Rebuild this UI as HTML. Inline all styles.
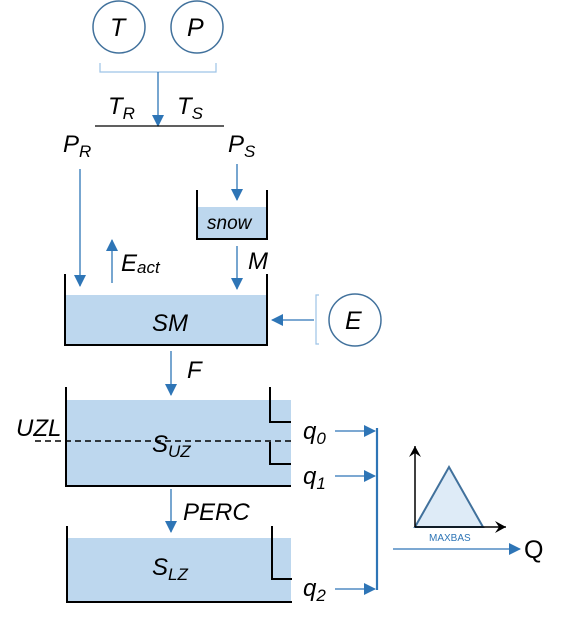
<!DOCTYPE html>
<html><head><style>html,body{margin:0;padding:0;background:#fff}svg{display:block}text{font-family:"Liberation Sans",sans-serif;font-style:italic;fill:#000}</style></head><body>
<svg width="577" height="617" viewBox="0 0 577 617" xmlns="http://www.w3.org/2000/svg">
<defs>
<marker id="b" markerWidth="12" markerHeight="12" refX="11" refY="6" orient="auto" markerUnits="userSpaceOnUse"><path d="M0,0 L12,6 L0,12 z" fill="#2e75b6"/></marker>
<marker id="k" markerWidth="12" markerHeight="12" refX="11" refY="6" orient="auto" markerUnits="userSpaceOnUse"><path d="M0,0 L11,6 L0,12 L4,6 z" fill="#000"/></marker>
</defs>
<circle cx="119" cy="27" r="26" fill="none" stroke="#41719c" stroke-width="1.5"/>
<circle cx="197" cy="27" r="26" fill="none" stroke="#41719c" stroke-width="1.5"/>
<text x="110" y="36" font-size="25">T</text>
<text x="187" y="36" font-size="25">P</text>
<path d="M100,63 V72 H216 V63" fill="none" stroke="#9dc3e6" stroke-width="1.2"/>
<line x1="158" y1="72" x2="158" y2="126" stroke="#2e75b6" stroke-width="1.3" marker-end="url(#b)"/>
<line x1="95" y1="126" x2="224" y2="126" stroke="#000" stroke-width="1.3"/>
<text x="108" y="114" font-size="24">T<tspan font-size="17" dy="5">R</tspan></text>
<text x="177" y="114" font-size="24">T<tspan font-size="17" dy="5">S</tspan></text>
<text x="63" y="152" font-size="24">P<tspan font-size="17" dy="5">R</tspan></text>
<text x="228" y="152" font-size="24">P<tspan font-size="17" dy="5">S</tspan></text>
<line x1="80" y1="169" x2="80" y2="286" stroke="#2e75b6" stroke-width="1.3" marker-end="url(#b)"/>
<line x1="112" y1="283" x2="112" y2="240" stroke="#2e75b6" stroke-width="1.3" marker-end="url(#b)"/>
<text x="121" y="271" font-size="24">E<tspan font-size="17" dy="2">act</tspan></text>
<line x1="237" y1="164" x2="237" y2="200" stroke="#2e75b6" stroke-width="1.3" marker-end="url(#b)"/>
<line x1="237" y1="246" x2="237" y2="289" stroke="#2e75b6" stroke-width="1.3" marker-end="url(#b)"/>
<text x="248" y="269" font-size="24">M</text>
<rect x="197" y="207" width="70" height="32" fill="#bdd7ee"/>
<path d="M197,190 V239 H267 V190" fill="none" stroke="#000" stroke-width="2"/>
<text x="207" y="229" font-size="19">snow</text>
<rect x="65" y="295" width="202" height="50" fill="#bdd7ee"/>
<path d="M65,274 V345 H267 V274" fill="none" stroke="#000" stroke-width="2"/>
<text x="152" y="331" font-size="24">SM</text>
<line x1="314" y1="320" x2="272" y2="320" stroke="#2e75b6" stroke-width="1.3" marker-end="url(#b)"/>
<path d="M319,295 H316 V344 H319" fill="none" stroke="#9dc3e6" stroke-width="1.2"/>
<circle cx="355" cy="320" r="26" fill="none" stroke="#41719c" stroke-width="1.5"/>
<text x="345" y="329" font-size="25">E</text>
<line x1="171" y1="351" x2="171" y2="395" stroke="#2e75b6" stroke-width="1.3" marker-end="url(#b)"/>
<text x="187" y="378" font-size="24">F</text>
<rect x="66" y="400" width="225" height="86" fill="#bdd7ee"/>
<path d="M66,387 V486 H291" fill="none" stroke="#000" stroke-width="2"/>
<path d="M270,387 V422 H291" fill="none" stroke="#000" stroke-width="2"/>
<path d="M270,442 V464 H291" fill="none" stroke="#000" stroke-width="2"/>
<line x1="35" y1="441" x2="291" y2="441" stroke="#000" stroke-width="1.5" stroke-dasharray="6,4"/>
<text x="16" y="436" font-size="24">UZL</text>
<text x="152" y="452" font-size="24">S<tspan font-size="17" dy="5">UZ</tspan></text>
<line x1="171" y1="489" x2="171" y2="532" stroke="#2e75b6" stroke-width="1.3" marker-end="url(#b)"/>
<text x="183" y="520" font-size="24">PERC</text>
<rect x="67" y="538" width="224" height="63" fill="#bdd7ee"/>
<path d="M67,526 V602 H292" fill="none" stroke="#000" stroke-width="2"/>
<path d="M272,526 V579 H292" fill="none" stroke="#000" stroke-width="2"/>
<text x="152" y="575" font-size="24">S<tspan font-size="17" dy="5">LZ</tspan></text>
<text x="303" y="439" font-size="24">q<tspan font-size="17" dy="5">0</tspan></text>
<text x="303" y="484" font-size="24">q<tspan font-size="17" dy="5">1</tspan></text>
<text x="303" y="596" font-size="24">q<tspan font-size="17" dy="5">2</tspan></text>
<line x1="335" y1="431" x2="375" y2="431" stroke="#2e75b6" stroke-width="1.3" marker-end="url(#b)"/>
<line x1="335" y1="476" x2="375" y2="476" stroke="#2e75b6" stroke-width="1.3" marker-end="url(#b)"/>
<line x1="335" y1="589" x2="375" y2="589" stroke="#2e75b6" stroke-width="1.3" marker-end="url(#b)"/>
<line x1="377" y1="428" x2="377" y2="590" stroke="#2e75b6" stroke-width="2.2"/>
<line x1="393" y1="549" x2="520" y2="549" stroke="#2e75b6" stroke-width="1.3" marker-end="url(#b)"/>
<text x="524" y="558" font-size="25" style="font-style:normal">Q</text>
<polygon points="415,527 449,467 483,527" fill="#deebf7" stroke="#41719c" stroke-width="2"/>
<line x1="415" y1="527" x2="415" y2="446" stroke="#000" stroke-width="1.5" marker-end="url(#k)"/>
<line x1="415" y1="527" x2="506" y2="527" stroke="#000" stroke-width="1.5" marker-end="url(#k)"/>
<text x="429" y="541" font-size="10" style="font-style:normal;fill:#2e75b6">MAXBAS</text>
</svg>
</body></html>
